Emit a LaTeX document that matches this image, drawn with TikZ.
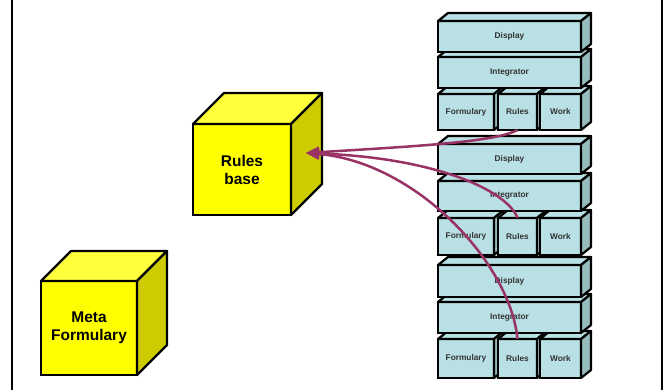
\documentclass[tikz,border=0pt]{standalone}
\usepackage{fontspec}
\setmainfont{Liberation Sans}
\usetikzlibrary{arrows.meta}
\definecolor{cyfront}{RGB}{185,224,228}
\definecolor{cyside}{RGB}{150,188,190}
\definecolor{yfront}{RGB}{255,255,0}
\definecolor{ytop}{RGB}{255,255,60}
\definecolor{yside}{RGB}{204,204,0}
\definecolor{linkc}{RGB}{153,51,102}
\tikzset{
 stackblk/.style={draw=black, fill=cyfront, line width=2.2pt, inner sep=0pt, outer sep=0pt, anchor=north west, font=\fontsize{8.3}{10}\selectfont\bfseries, text=black!80},
 cubeblk/.style={draw=black, fill=yfront, line width=2.2pt, inner sep=0pt, outer sep=0pt, anchor=north west, align=center, font=\fontsize{15.5}{18}\selectfont\bfseries},
 face/.style={draw=black, line width=2.2pt, line join=round},
 linkarrow/.style={draw=linkc, line width=2.5pt, -{Triangle[length=13pt,width=11pt]}},
 frameline/.style={draw=black, line width=2pt}
}
\newcommand\blk[6]{%
 \node[stackblk, minimum width=#4pt, minimum height=#5pt] (#1) at (#2,#3) {#6};
 \path[face, fill=cyfront] (#1.north west) -- ++(10,-8) -- ++(#4,0) -- (#1.north east) -- cycle;
 \path[face, fill=cyside] (#1.north east) -- ++(10,-8) -- ++(0,#5) -- (#1.south east) -- cycle;
}
\newcommand\cube[7]{%
 \node[cubeblk, minimum width=#4pt, minimum height=#5pt] (#1) at (#2,#3) {#7};
 \path[face, fill=ytop] (#1.north west) -- ++(#6,-#6) -- ++(#4,0) -- (#1.north east) -- cycle;
 \path[face, fill=yside] (#1.north east) -- ++(#6,-#6) -- ++(0,#5) -- (#1.south east) -- cycle;
}
\begin{document}
\begin{tikzpicture}[x=1pt,y=-1pt]
\useasboundingbox (0,0) rectangle (670,390);
% frame lines
\coordinate (fla) at (12,0);
\coordinate (flb) at (12,390);
\coordinate (fra) at (662,0);
\coordinate (frb) at (662,390);
\draw[frameline] (fla) -- (flb);
\draw[frameline] (fra) -- (frb);
% group 3
\blk{f3}{438}{339}{56}{39}{Formulary}
\blk{r3}{498}{339}{39}{39}{Rules}
\blk{w3}{540}{339}{41}{39}{Work}
\blk{i3}{438}{302}{143}{31}{Integrator}
\blk{d3}{438}{265}{143}{32}{Display}
% group 2
\blk{f2}{438}{218}{56}{37}{Formulary}
\blk{r2}{498}{218}{39}{37}{Rules}
\blk{w2}{540}{218}{41}{37}{Work}
\blk{i2}{438}{181}{143}{30}{Integrator}
\blk{d2}{438}{144}{143}{30}{Display}
% group 1
\blk{f1}{438}{94}{56}{36}{Formulary}
\blk{r1}{498}{94}{39}{36}{Rules}
\blk{w1}{540}{94}{41}{36}{Work}
\blk{i1}{438}{57}{143}{31}{Integrator}
\blk{d1}{438}{21}{143}{31}{Display}
% yellow cubes
\cube{rb}{193}{124}{98}{91}{31}{Rules\\base}
\cube{mf}{41}{281}{96}{94}{30}{Meta\\Formulary}
% connectors
\coordinate (tip) at (306,153);
\draw[linkarrow] (r1.south) .. controls (495,142) and (420,146) .. (tip);
\draw[linkarrow] (r2.north) .. controls (508,192) and (440,158) .. (tip);
\draw[linkarrow] (r3.north) .. controls (510,262) and (415,162) .. (tip);
\end{tikzpicture}
\end{document}
